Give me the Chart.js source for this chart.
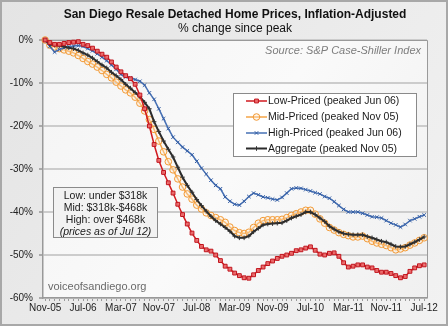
<!DOCTYPE html>
<html><head><meta charset="utf-8">
<script src="https://cdn.jsdelivr.net/npm/chart.js@4.4.1/dist/chart.umd.min.js"></script>
<style>html,body{margin:0;padding:0;background:#fff;}#wrap{width:448px;height:326px;}</style>
</head><body><div id="wrap"><canvas id="c" width="448" height="326"></canvas></div>
<script>
// Monthly data, Nov-05 (index 0) to Jul-12 (index 80); % change since peak
const tickLabels = ['Nov-05','Jul-06','Mar-07','Nov-07','Jul-08','Mar-09','Nov-09','Jul-10','Mar-11','Nov-11','Jul-12'];
const lowPriced = [0,-0.6,-1.0,-1.0,-0.8,-0.6,-0.5,-0.4,-1.0,-1.3,
 -1.9,-2.6,-3.3,-4.0,-5.1,-6.3,-7.4,-8.3,-9.0,-10.3,
 -12.8,-16.0,-20.0,-24.3,-28.0,-30.8,-33.2,-35.6,-38.2,-40.6,
 -42.8,-44.9,-46.6,-48.0,-48.8,-49.1,-50.0,-51.3,-52.6,-53.3,
 -54.2,-54.8,-55.3,-55.4,-54.6,-53.6,-52.8,-52.0,-51.4,-50.8,
 -50.3,-50.0,-49.6,-49.0,-48.8,-48.4,-48.1,-48.9,-49.8,-50.0,
 -49.6,-49.5,-50.3,-51.8,-52.8,-52.6,-52.3,-52.3,-52.8,-53.0,
 -53.6,-54.0,-54.0,-54.3,-54.8,-55.3,-55.0,-53.8,-53.0,-52.5,
 -52.3];
const midPriced = [0,-1.2,-1.6,-2.0,-2.3,-2.6,-3.0,-3.6,-4.3,-5.0,
 -5.6,-6.3,-7.1,-8.0,-8.8,-9.8,-10.7,-11.6,-12.3,-13.3,
 -14.7,-16.5,-18.5,-20.8,-23.5,-26.0,-28.3,-30.2,-32.3,-34.2,
 -35.8,-37.0,-38.4,-39.3,-40.2,-40.8,-41.3,-41.8,-42.4,-43.5,
 -44.3,-44.8,-45.0,-44.7,-43.6,-42.6,-42.0,-41.8,-41.8,-41.8,
 -41.7,-41.3,-40.8,-40.4,-40.0,-39.6,-39.6,-40.5,-41.6,-42.6,
 -43.6,-44.2,-44.8,-45.2,-45.5,-45.8,-45.8,-45.6,-46.2,-46.8,
 -47.2,-47.5,-47.8,-48.3,-48.8,-48.6,-48.3,-47.7,-47.2,-46.6,
 -46.0];
const highPriced = [0,-1.5,-2.8,-2.2,-1.8,-1.6,-1.4,-1.3,-1.5,-2.0,
 -2.5,-3.2,-4.0,-4.8,-5.8,-6.8,-8.0,-8.6,-8.8,-9.2,
 -9.6,-10.5,-12.3,-13.8,-16.0,-18.3,-20.6,-22.6,-23.8,-24.9,
 -25.8,-26.7,-28.2,-29.8,-31.2,-32.6,-33.8,-34.6,-36.5,-37.5,
 -38.2,-38.4,-37.5,-36.4,-35.6,-36.0,-36.5,-36.7,-37.0,-37.2,
 -36.6,-35.6,-34.6,-34.4,-34.5,-34.8,-35.1,-35.5,-35.8,-36.4,
 -36.8,-37.6,-38.5,-39.4,-40.0,-40.0,-40.0,-40.3,-40.7,-41.1,
 -41.2,-41.4,-42.0,-42.6,-43.0,-43.5,-42.9,-42.0,-41.6,-41.1,
 -40.7];
const aggregate = [0,-1.0,-1.2,-1.3,-1.5,-1.8,-2.0,-2.4,-3.0,-3.5,
 -4.2,-5.0,-5.8,-6.5,-7.5,-8.3,-9.2,-10.3,-11.2,-12.2,
 -13.2,-14.5,-16.0,-19.0,-21.3,-23.5,-25.4,-27.2,-29.6,-31.9,
 -33.8,-35.4,-37.1,-38.5,-39.8,-41.0,-42.0,-42.8,-43.6,-44.5,
 -45.6,-46.0,-46.0,-45.6,-44.6,-43.8,-43.0,-42.8,-42.7,-42.6,
 -42.5,-42.0,-41.4,-41.0,-40.6,-40.0,-40.0,-40.6,-41.4,-42.2,
 -43.3,-44.0,-44.6,-45.0,-45.2,-45.3,-45.3,-45.3,-45.7,-46.0,
 -46.4,-46.8,-47.0,-47.5,-48.0,-48.1,-48.0,-47.5,-47.0,-46.4,
 -45.8];
const seriesNames = ['Low-Priced (peaked Jun 06)','Mid-Priced (peaked Nov 05)','High-Priced (peaked Jun 06)','Aggregate (peaked Nov 05)'];
const infoLines = ['Low: under $318k','Mid: $318k-$468k','High: over $468k','(prices as of Jul 12)'];
const tickStep = 8;

const FONT = '"Liberation Sans", Arial, Helvetica, sans-serif';
const toXY = arr => arr.map((v,i)=>({x:i,y:v}));

const styles = [
  {line:'#d11a1f', pt:'rect', r:2.7, pb:'#c0121b', pf:'rgba(236,110,110,0.9)', lw:1.5},
  {line:'#f5a447', pt:'circle', r:3.3, pb:'#f39a35', pf:'rgba(255,235,210,0.35)', lw:1.5},
  {line:'#4670b4', pt:'crossRot', r:2.5, pb:'#355f a5'.replace(' ',''), pf:'#355fa5', lw:1.5},
  {line:'#2b2b2b', pt:'cross', r:2.3, pb:'#333333', pf:'#333333', lw:2}
];
const dataArrays = [lowPriced, midPriced, highPriced, aggregate];
const orders = [0,3,2,1];

const datasets = dataArrays.map((arr,k)=>({
  label: seriesNames[k],
  data: toXY(arr),
  borderColor: styles[k].line,
  borderWidth: styles[k].lw,
  pointStyle: styles[k].pt,
  pointRadius: styles[k].r,
  pointBorderColor: styles[k].pb,
  pointBackgroundColor: styles[k].pf,
  pointBorderWidth: 1,
  tension: 0,
  clip: false,
  order: orders[k]
}));

function drawMarker(ctx, st, x, y){
  ctx.save();
  ctx.strokeStyle = st.pb; ctx.fillStyle = st.pf; ctx.lineWidth = 1;
  const r = st.r;
  ctx.beginPath();
  if (st.pt==='rect'){ const s=Math.SQRT1_2*r; ctx.rect(x-s,y-s,2*s,2*s); ctx.fill(); ctx.stroke(); }
  else if (st.pt==='circle'){ ctx.arc(x,y,r,0,Math.PI*2); ctx.fill(); ctx.stroke(); }
  else if (st.pt==='crossRot'){ const s=Math.SQRT1_2*r; ctx.moveTo(x-s,y-s); ctx.lineTo(x+s,y+s); ctx.moveTo(x+s,y-s); ctx.lineTo(x-s,y+s); ctx.stroke(); }
  else { ctx.moveTo(x,y-r); ctx.lineTo(x,y+r); ctx.moveTo(x-r,y); ctx.lineTo(x+r,y); ctx.stroke(); }
  ctx.restore();
}

const decor = {
  id:'decor',
  beforeDraw(chart){
    const ctx=chart.ctx, a=chart.chartArea, W=chart.width, H=chart.height;
    ctx.save();
    let g=ctx.createLinearGradient(0,0,W,H);
    g.addColorStop(0,'#e4e4e4'); g.addColorStop(1,'#f2f2f2');
    ctx.fillStyle=g; ctx.fillRect(0,0,W,H);
    ctx.strokeStyle='#a8a8a8'; ctx.lineWidth=2; ctx.strokeRect(1,1,W-2,H-2);
    g=ctx.createLinearGradient(a.left,a.top,a.right,a.bottom);
    g.addColorStop(0,'#f4f4f4'); g.addColorStop(0.5,'#fafafa'); g.addColorStop(1,'#f0f0f0');
    ctx.fillStyle=g; ctx.fillRect(a.left,a.top,a.right-a.left,a.bottom-a.top);
    ctx.restore();
  },
  beforeDatasetsDraw(chart){
    const ctx=chart.ctx, a=chart.chartArea;
    ctx.save();
    ctx.strokeStyle='#9a9a9a'; ctx.lineWidth=1;
    ctx.beginPath(); ctx.moveTo(a.left,a.top+0.5); ctx.lineTo(a.right+0.5,a.top+0.5); ctx.lineTo(a.right+0.5,a.bottom); ctx.stroke();
    // source
    ctx.fillStyle='#7d7d7d'; ctx.font='italic 11px '+FONT; ctx.textAlign='right'; ctx.textBaseline='middle';
    ctx.fillText('Source: S&P Case-Shiller Index', a.right-6, 51);
    // watermark
    ctx.fillStyle='#6a6a6a'; ctx.font='11px '+FONT; ctx.textAlign='left';
    ctx.fillText('voiceofsandiego.org', a.left+5, 287);
    ctx.restore();
  },
  afterDraw(chart){
    const ctx=chart.ctx, a=chart.chartArea;
    const cx=(a.left+a.right)/2;
    ctx.save();
    ctx.fillStyle='#111'; ctx.textAlign='center'; ctx.textBaseline='middle';
    ctx.font='bold 12px '+FONT;
    ctx.fillText('San Diego Resale Detached Home Prices, Inflation-Adjusted', cx, 15);
    ctx.font='12px '+FONT;
    ctx.fillText('% change since peak', cx, 28.5);
    // legend box
    ctx.fillStyle='#ffffff'; ctx.strokeStyle='#8a8a8a'; ctx.lineWidth=1;
    ctx.fillRect(233.5,93.5,183,63); ctx.strokeRect(233.5,93.5,183,63);
    const rows=[101,117,133,148.5];
    ctx.font='10.5px '+FONT; ctx.textAlign='left';
    seriesNames.forEach((n,k)=>{
      const y=rows[k], st=styles[k];
      ctx.strokeStyle=st.line; ctx.lineWidth=st.lw;
      ctx.beginPath(); ctx.moveTo(246,y); ctx.lineTo(267,y); ctx.stroke();
      drawMarker(ctx, st, 256.5, y);
      ctx.fillStyle='#1a1a1a';
      ctx.fillText(n, 268, y+0.5);
    });
    // info box
    ctx.fillStyle='#f2f2f2'; ctx.strokeStyle='#8a8a8a'; ctx.lineWidth=1;
    ctx.fillRect(53.5,187.5,104,50); ctx.strokeRect(53.5,187.5,104,50);
    ctx.fillStyle='#1a1a1a'; ctx.textAlign='center';
    const iy=[196,208,220,232];
    infoLines.forEach((t,k)=>{
      ctx.font=(k===3?'italic ':'')+'10.5px '+FONT;
      ctx.fillText(t, 105.5, iy[k]);
    });
    ctx.restore();
  }
};

new Chart(document.getElementById('c'), {
  type:'line',
  data:{datasets},
  options:{
    responsive:false, animation:false, devicePixelRatio:1,
    layout:{padding:{top:40,right:21,bottom:0,left:0}},
    plugins:{legend:{display:false}, title:{display:false}, tooltip:{enabled:false}},
    scales:{
      x:{type:'linear', min:-0.45, max:80.6,
        afterFit:s=>{s.height=28;},
        border:{color:'#999', width:1.5},
        grid:{drawOnChartArea:false, drawTicks:true, tickLength:3, color:'#9a9a9a', tickColor:'#9a9a9a'},
        ticks:{stepSize:1, autoSkip:false, includeBounds:false, maxRotation:0, minRotation:0, padding:1,
          color:'#222', font:{family:FONT, size:10},
          callback:v=> (Number.isInteger(v) && v%tickStep===0) ? tickLabels[v/tickStep] : ''}
      },
      y:{min:-60, max:0,
        afterFit:s=>{s.width=43;},
        border:{color:'#999', width:1.5},
        grid:{color:'#cccccc', lineWidth:2, drawTicks:true, tickLength:4, tickColor:'#aaaaaa'},
        ticks:{stepSize:10, padding:6, color:'#222', font:{family:FONT, size:10}, callback:v=>v+'%'}
      }
    }
  },
  plugins:[decor]
});
</script></body></html>
